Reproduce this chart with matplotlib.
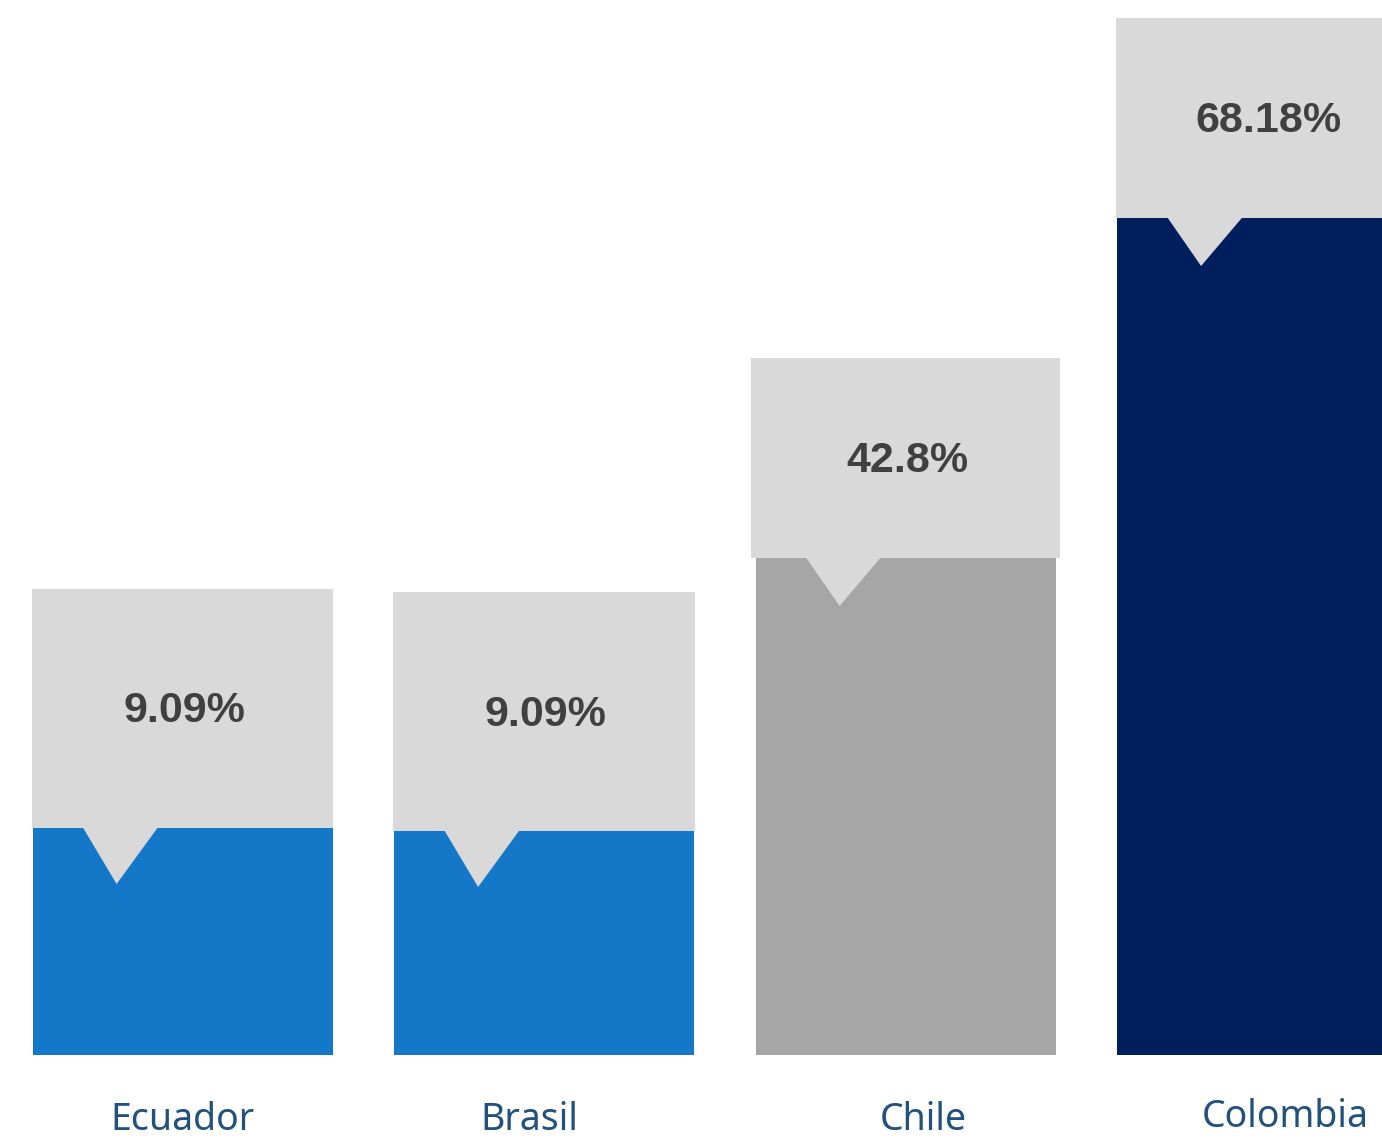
import matplotlib
matplotlib.use("Agg")
import matplotlib.pyplot as plt
from matplotlib.patches import Polygon

# données
pays = ["Ecuador", "Brasil", "Chile", "Colombia"]
valeurs = ["9.09%", "9.09%", "42.8%", "68.18%"]
hauteurs = [227, 224, 497, 837]        # hauteur des barres (échelle de l'image)
hauteurs_bulle = [239, 239, 200, 200]  # hauteur des bulles grises
couleurs = ["#1477c7", "#1477c7", "#a6a6a6", "#001f5c"]

fig = plt.figure(figsize=(13.82, 11.41), dpi=100)
ax = fig.add_axes([0, 0, 1, 1])
ax.set_xlim(-0.505, 3.318)
ax.set_ylim(-86, 1055)
ax.axis("off")

larg_barre = 0.83
larg_bulle = [0.835, 0.835, 0.855, 0.835]
x = [0, 1, 2, 3]

# barres
ax.bar(x, hauteurs, width=larg_barre, color=couleurs, zorder=2)

# bulles grises au-dessus des barres
ax.bar(x, hauteurs_bulle, bottom=hauteurs, width=larg_bulle,
       color="#d9d9d9", zorder=3)

for i in range(len(pays)):
    gauche = x[i] - 0.835/2
    h = hauteurs[i]
    prof = 56 if hauteurs_bulle[i] > 220 else 48
    tri = Polygon([(gauche+0.141, h+1), (gauche+0.35, h+1), (gauche+0.235, h-prof)],
                  closed=True, color="#d9d9d9", lw=0, zorder=4)
    ax.add_patch(tri)
    # valeur dans la bulle
    ax.text(x[i]+0.005, h+hauteurs_bulle[i]/2-3, valeurs[i], ha="center", va="center",
            fontsize=31, fontweight="bold", color="#404040",
            family="Liberation Sans", zorder=5)

# noms des pays
decalage = [0, -0.04, 0.05, 0.05]
for i in range(len(pays)):
    ax.text(x[i]+decalage[i], -75 if i < 3 else -72, pays[i], ha="center", va="baseline",
            fontsize=27, color="#22507f", family="Noto Sans", zorder=5)

fig.savefig("out.png", dpi=100, facecolor="white")
